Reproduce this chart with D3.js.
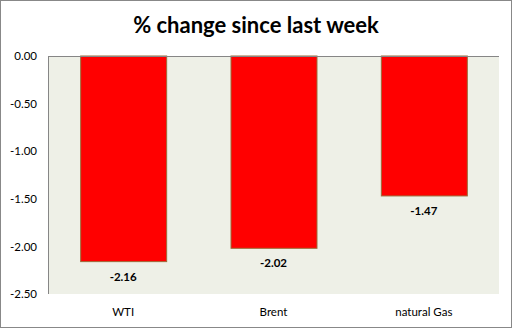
<!DOCTYPE html>
<html><head><meta charset="utf-8">
<script src="https://cdn.jsdelivr.net/npm/d3@7"></script>
<style>
html,body{margin:0;padding:0;background:#fff;}
svg{display:block;font-family:Lato,"Open Sans",sans-serif;}
</style></head>
<body>
<svg id="chart" width="514" height="329"></svg>
<script>
const categories = ["WTI", "Brent", "natural Gas"];
const values = [-2.16, -2.02, -1.47];
const tickValues = [0, -0.5, -1.0, -1.5, -2.0, -2.5];
const title = "% change since last week";

const svg = d3.select("#chart");
const plot = {left: 48, top: 56, right: 499, bottom: 294};

// outer border
svg.append("rect").attr("x", 0.5).attr("y", 0.5).attr("width", 511).attr("height", 327)
  .attr("fill", "#fff").attr("stroke", "#888").attr("stroke-width", 1);

const x = d3.scaleBand().domain(categories).range([plot.left, plot.right]).paddingInner(0.428).paddingOuter(0.214);
const y = d3.scaleLinear().domain([0, -2.5]).range([plot.top, plot.bottom]);

// plot background
svg.append("rect").attr("x", plot.left).attr("y", plot.top)
  .attr("width", plot.right - plot.left).attr("height", plot.bottom - plot.top)
  .attr("fill", "#EEF0E7");

// bars
svg.selectAll("rect.bar").data(values).enter().append("rect").attr("class", "bar")
  .attr("x", (d, i) => x(categories[i]) + 0.5)
  .attr("y", y(0))
  .attr("width", x.bandwidth())
  .attr("height", d => y(d) - y(0))
  .attr("fill", "#FF0000").attr("stroke", "#9C6B3A").attr("stroke-width", 1);

// axis lines (top zero line, left)
svg.append("line").attr("x1", plot.left).attr("x2", plot.right).attr("y1", y(0) + 0.5).attr("y2", y(0) + 0.5)
  .attr("stroke", "#868686");
svg.append("line").attr("x1", plot.left + 0.5).attr("x2", plot.left + 0.5).attr("y1", plot.top).attr("y2", plot.bottom)
  .attr("stroke", "#868686");

// y ticks
const yAxis = d3.axisLeft(y).tickValues(tickValues).tickFormat(d3.format(".2f")).tickSize(0).tickPadding(11);
const ga = svg.append("g").attr("transform", `translate(${plot.left},0)`).call(yAxis);
ga.select(".domain").remove();
ga.selectAll("text").attr("font-size", 11.5).attr("fill", "#000").attr("font-family", "Lato, 'Open Sans', sans-serif")
  .text(d => d3.format(".2f")(d).replace("−", "-"));

// value labels
svg.selectAll("text.val").data(values).enter().append("text").attr("class", "val")
  .attr("x", (d, i) => x(categories[i]) + x.bandwidth() / 2)
  .attr("y", d => y(d) + 19)
  .attr("text-anchor", "middle").attr("font-size", 11.5).attr("font-weight", "bold")
  .text(d => d.toFixed(2));

// category labels
svg.selectAll("text.cat").data(categories).enter().append("text").attr("class", "cat")
  .attr("x", d => x(d) + x.bandwidth() / 2)
  .attr("y", 316)
  .attr("text-anchor", "middle").attr("font-size", 11.5)
  .text(d => d);

// title
svg.append("text").attr("x", 256).attr("y", 33).attr("text-anchor", "middle")
  .attr("font-size", 22).attr("font-weight", "bold").text(title);
</script>
</body></html>
